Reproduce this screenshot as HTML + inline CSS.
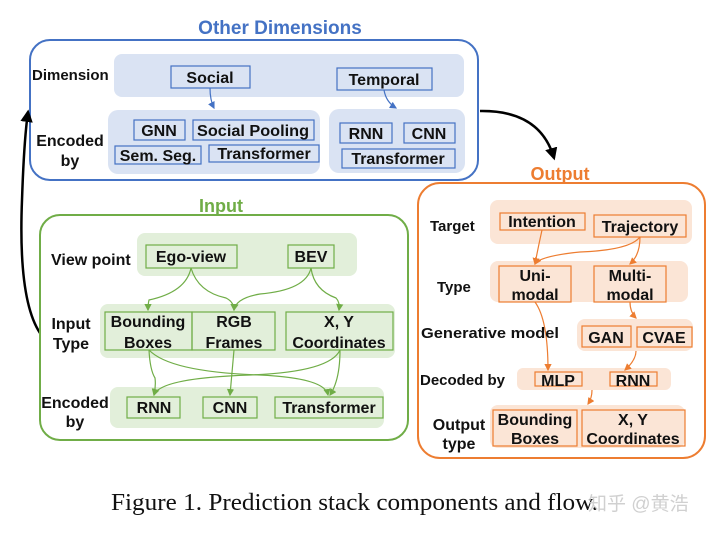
<!DOCTYPE html>
<html><head><meta charset="utf-8"><style>
html,body{margin:0;padding:0;background:#fff;}
svg{display:block;}
text{font-family:"Liberation Sans",sans-serif;font-weight:bold;fill:#111;}
</style></head><body>
<svg width="720" height="533" viewBox="0 0 720 533" xmlns="http://www.w3.org/2000/svg">
<defs>
<marker id="ab" markerWidth="6" markerHeight="6" refX="5" refY="3" orient="auto"><path d="M0,0 L6,3 L0,6z" fill="#4472c4"/></marker>
<marker id="ag" markerWidth="6" markerHeight="6" refX="5" refY="3" orient="auto"><path d="M0,0 L6,3 L0,6z" fill="#70ad47"/></marker>
<marker id="ao" markerWidth="6" markerHeight="6" refX="5" refY="3" orient="auto"><path d="M0,0 L6,3 L0,6z" fill="#ed7d31"/></marker>
<marker id="ak" markerWidth="5" markerHeight="5" refX="4" refY="2.5" orient="auto"><path d="M0,0 L5,2.5 L0,5z" fill="#000"/></marker>
</defs>

<!-- Other Dimensions -->
<text x="280" y="34" text-anchor="middle" font-size="19" style="fill:#4472c4">Other Dimensions</text>
<rect x="30" y="40" width="448" height="140" rx="20" fill="#fff" stroke="#4472c4" stroke-width="2"/>
<rect x="114" y="54" width="350" height="43" rx="8" fill="#dae3f3"/>
<rect x="108" y="110" width="212" height="64" rx="10" fill="#dae3f3"/>
<rect x="329" y="109" width="136" height="64" rx="10" fill="#dae3f3"/>
<g fill="none" stroke="#4472c4" stroke-width="1.2">
<rect x="171" y="66" width="79" height="22"/>
<rect x="337" y="68" width="95" height="22"/>
<rect x="134" y="120" width="51" height="20"/>
<rect x="193" y="120" width="121" height="20"/>
<rect x="115" y="146" width="86" height="18"/>
<rect x="209" y="145" width="110" height="17"/>
<rect x="340" y="123" width="52" height="20"/>
<rect x="404" y="123" width="51" height="20"/>
<rect x="342" y="149" width="113" height="19"/>
<path d="M210,88 Q210,100 214,108" marker-end="url(#ab)"/>
<path d="M384,90 Q386,102 396,108" marker-end="url(#ab)"/>
</g>
<g font-size="16">
<text x="32" y="80" font-size="15">Dimension</text>
<text x="70" y="146" text-anchor="middle">Encoded</text>
<text x="70" y="166" text-anchor="middle">by</text>
<text x="210" y="83" text-anchor="middle">Social</text>
<text x="384" y="85" text-anchor="middle">Temporal</text>
<text x="159" y="136" text-anchor="middle">GNN</text>
<text x="253" y="136" text-anchor="middle" textLength="112" lengthAdjust="spacingAndGlyphs">Social Pooling</text>
<text x="158" y="161" text-anchor="middle">Sem. Seg.</text>
<text x="264" y="159" text-anchor="middle">Transformer</text>
<text x="366" y="139" text-anchor="middle">RNN</text>
<text x="429" y="139" text-anchor="middle">CNN</text>
<text x="398" y="164" text-anchor="middle">Transformer</text>
</g>

<!-- black arrows -->
<path d="M40,333 Q18,300 22,200 Q24,140 28,112" fill="none" stroke="#000" stroke-width="2.5" marker-end="url(#ak)"/>
<path d="M480,111 Q540,110 554,158" fill="none" stroke="#000" stroke-width="2.5" marker-end="url(#ak)"/>

<!-- Input -->
<text x="221" y="212" text-anchor="middle" font-size="18" style="fill:#70ad47">Input</text>
<rect x="40" y="215" width="368" height="225" rx="20" fill="#fff" stroke="#70ad47" stroke-width="2"/>
<rect x="137" y="233" width="220" height="43" rx="8" fill="#e2efda"/>
<rect x="100" y="304" width="295" height="54" rx="8" fill="#e2efda"/>
<rect x="110" y="387" width="274" height="41" rx="8" fill="#e2efda"/>
<g fill="none" stroke="#70ad47" stroke-width="1.2">
<rect x="146" y="245" width="91" height="23"/>
<rect x="288" y="245" width="46" height="23"/>
<rect x="105" y="312" width="87" height="38"/>
<rect x="192" y="312" width="83" height="38"/>
<rect x="286" y="312" width="107" height="38"/>
<rect x="127" y="397" width="53" height="21"/>
<rect x="203" y="397" width="54" height="21"/>
<rect x="275" y="397" width="108" height="21"/>
<path d="M191,268 Q186,292 149,300 Q148,304 148,310" marker-end="url(#ag)"/>
<path d="M191,268 Q198,292 226,298 Q234,302 234,310" marker-end="url(#ag)"/>
<path d="M311,268 Q306,290 260,294 Q236,298 234,310" marker-end="url(#ag)"/>
<path d="M311,268 Q314,290 336,298 Q340,302 339,310" marker-end="url(#ag)"/>
<path d="M149,350 Q150,370 155,378 Q156,386 154,395" marker-end="url(#ag)"/>
<path d="M149,350 Q170,372 260,375 Q325,378 328,395" marker-end="url(#ag)"/>
<path d="M340,350 Q330,372 250,375 Q160,378 154,395" marker-end="url(#ag)"/>
<path d="M340,350 Q340,380 330,395" marker-end="url(#ag)"/>
<path d="M234,350 Q232,372 230,395" marker-end="url(#ag)"/>
</g>
<g font-size="16">
<text x="51" y="265">View point</text>
<text x="71" y="329" text-anchor="middle">Input</text>
<text x="71" y="349" text-anchor="middle">Type</text>
<text x="75" y="408" text-anchor="middle">Encoded</text>
<text x="75" y="427" text-anchor="middle">by</text>
<text x="191" y="262" text-anchor="middle">Ego-view</text>
<text x="311" y="262" text-anchor="middle">BEV</text>
<text x="148" y="327" text-anchor="middle">Bounding</text>
<text x="148" y="348" text-anchor="middle">Boxes</text>
<text x="234" y="327" text-anchor="middle">RGB</text>
<text x="234" y="348" text-anchor="middle">Frames</text>
<text x="339" y="327" text-anchor="middle">X, Y</text>
<text x="339" y="348" text-anchor="middle">Coordinates</text>
<text x="154" y="413" text-anchor="middle">RNN</text>
<text x="230" y="413" text-anchor="middle">CNN</text>
<text x="329" y="413" text-anchor="middle">Transformer</text>
</g>

<!-- Output -->
<text x="560" y="180" text-anchor="middle" font-size="18" style="fill:#ed7d31">Output</text>
<rect x="418" y="183" width="287" height="275" rx="22" fill="#fff" stroke="#ed7d31" stroke-width="2"/>
<rect x="490" y="200" width="202" height="44" rx="8" fill="#fbe5d6"/>
<rect x="490" y="261" width="198" height="41" rx="8" fill="#fbe5d6"/>
<rect x="577" y="319" width="116" height="32" rx="8" fill="#fbe5d6"/>
<rect x="517" y="368" width="154" height="22" rx="6" fill="#fbe5d6"/>
<rect x="490" y="405" width="195" height="43" rx="8" fill="#fbe5d6"/>
<g fill="none" stroke="#ed7d31" stroke-width="1.2">
<rect x="500" y="213" width="85" height="17"/>
<rect x="594" y="215" width="92" height="22"/>
<rect x="499" y="266" width="72" height="36"/>
<rect x="594" y="266" width="72" height="36"/>
<rect x="582" y="326" width="49" height="21"/>
<rect x="637" y="327" width="55" height="20"/>
<rect x="535" y="372" width="47" height="14"/>
<rect x="610" y="372" width="47" height="14"/>
<rect x="493" y="410" width="84" height="36"/>
<rect x="582" y="410" width="103" height="36"/>
<path d="M542,230 Q538,248 535,264" marker-end="url(#ao)"/>
<path d="M640,237 Q630,250 580,252 Q540,256 535,264" marker-end="url(#ao)"/>
<path d="M640,237 Q640,255 630,264" marker-end="url(#ao)"/>
<path d="M535,302 Q548,320 548,370" marker-end="url(#ao)"/>
<path d="M630,302 Q630,312 636,318" marker-end="url(#ao)"/>
<path d="M636,351 Q636,360 625,370" marker-end="url(#ao)"/>
<path d="M592,390 Q592,398 588,404" marker-end="url(#ao)"/>
</g>
<g font-size="16">
<text x="430" y="231" font-size="15">Target</text>
<text x="437" y="292" font-size="15">Type</text>
<text x="421" y="338" font-size="15" textLength="138" lengthAdjust="spacingAndGlyphs">Generative model</text>
<text x="420" y="385" font-size="15">Decoded by</text>
<text x="459" y="430" text-anchor="middle">Output</text>
<text x="459" y="449" text-anchor="middle">type</text>
<text x="542" y="227" text-anchor="middle">Intention</text>
<text x="640" y="232" text-anchor="middle">Trajectory</text>
<text x="535" y="281" text-anchor="middle">Uni-</text>
<text x="535" y="300" text-anchor="middle">modal</text>
<text x="630" y="281" text-anchor="middle">Multi-</text>
<text x="630" y="300" text-anchor="middle">modal</text>
<text x="606" y="343" text-anchor="middle">GAN</text>
<text x="664" y="343" text-anchor="middle">CVAE</text>
<text x="558" y="386" text-anchor="middle">MLP</text>
<text x="633" y="386" text-anchor="middle">RNN</text>
<text x="535" y="425" text-anchor="middle">Bounding</text>
<text x="535" y="444" text-anchor="middle">Boxes</text>
<text x="633" y="425" text-anchor="middle">X, Y</text>
<text x="633" y="444" text-anchor="middle">Coordinates</text>
</g>

<!-- Caption -->
<text x="111" y="510" font-size="24" textLength="487" lengthAdjust="spacingAndGlyphs" style="font-family:'Liberation Serif',serif;font-weight:normal;fill:#111">Figure 1. Prediction stack components and flow.</text>
<text x="588" y="510" font-size="19" style="font-family:'Liberation Sans','Noto Sans CJK SC',sans-serif;font-weight:normal;fill:#ccc;opacity:0.9">知乎 @黄浩</text>
</svg>
</body></html>
